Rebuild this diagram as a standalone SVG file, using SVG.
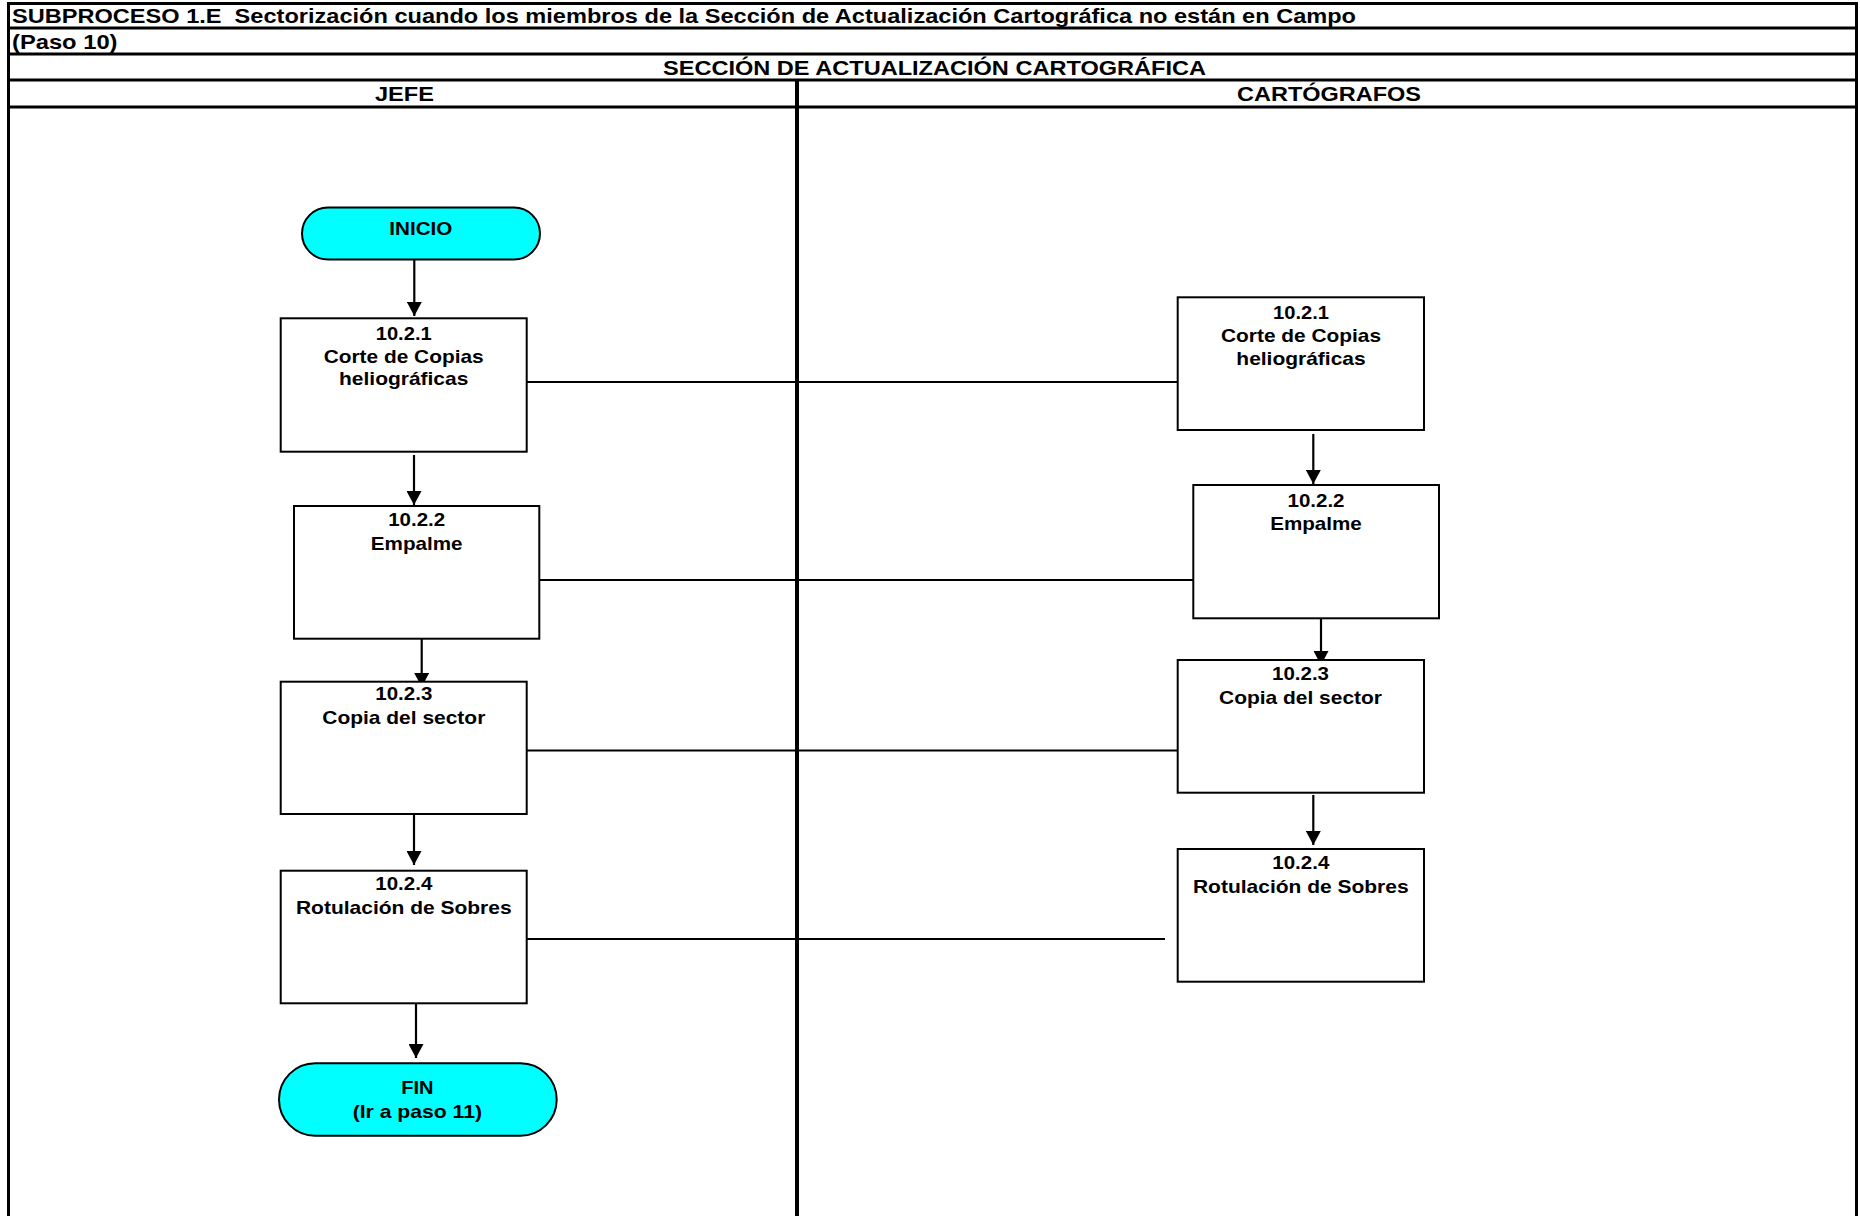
<svg xmlns="http://www.w3.org/2000/svg" width="1860" height="1216" viewBox="0 0 1860 1216">
  <style>
    .frame { stroke: #000; stroke-width: 3; fill: none; }
    .divider { stroke: #000; stroke-width: 4; fill: none; }
    .hdr { font-family: "Liberation Sans", Arial, sans-serif; font-weight: bold; font-size: 21px; fill: #000; }
    .lbl { font-family: "Liberation Sans", Arial, sans-serif; font-weight: bold; font-size: 19px; fill: #000; text-anchor: middle; }
    .box { fill: #fff; stroke: #000; stroke-width: 2; }
    .term { fill: #00ffff; stroke: #000; stroke-width: 2; }
    .link { stroke: #000; stroke-width: 2; fill: none; }
    .flow { stroke: #000; stroke-width: 2.2; fill: none; marker-end: url(#arrow); }
  </style>
  <defs>
    <marker id="arrow" markerUnits="userSpaceOnUse" markerWidth="15" markerHeight="15" refX="14" refY="7.5" orient="auto">
      <path d="M0,0 L14,7.5 L0,15 z" fill="#000"/>
    </marker>
  </defs>

  <rect width="1860" height="1216" fill="#fff"/>

  <!-- Swimlane table frame -->
  <g id="frame">
    <line class="frame" x1="8" y1="3.5" x2="1857" y2="3.5"/>
    <line class="frame" x1="8" y1="28" x2="1857" y2="28"/>
    <line class="frame" x1="8" y1="54" x2="1857" y2="54"/>
    <line class="frame" x1="8" y1="80" x2="1857" y2="80"/>
    <line class="frame" x1="8" y1="107" x2="1857" y2="107"/>
    <line class="frame" x1="8.5" y1="2" x2="8.5" y2="1216"/>
    <line class="frame" x1="1856.5" y1="2" x2="1856.5" y2="1216"/>
    <line class="divider" x1="797" y1="80" x2="797" y2="1216"/>
    <text class="hdr" x="12" y="23" textLength="1344" lengthAdjust="spacingAndGlyphs">SUBPROCESO 1.E &#160;Sectorización cuando los miembros de la Sección de Actualización Cartográfica no están en Campo</text>
    <text class="hdr" x="12" y="48.5" textLength="105.5" lengthAdjust="spacingAndGlyphs">(Paso 10)</text>
    <text class="hdr" x="934.5" y="74.5" text-anchor="middle" textLength="543" lengthAdjust="spacingAndGlyphs">SECCIÓN DE ACTUALIZACIÓN CARTOGRÁFICA</text>
    <text class="hdr" x="404.5" y="101" text-anchor="middle" textLength="59" lengthAdjust="spacingAndGlyphs">JEFE</text>
    <text class="hdr" x="1329" y="101" text-anchor="middle" textLength="184" lengthAdjust="spacingAndGlyphs">CARTÓGRAFOS</text>
  </g>

  <!-- Connectors -->
  <g id="connectors">
    <line class="link" x1="526.7" y1="382" x2="1177.7" y2="382"/>
    <line class="link" x1="537" y1="580" x2="1201" y2="580"/>
    <line class="link" x1="526.7" y1="750.5" x2="1177.7" y2="750.5"/>
    <line class="link" x1="522" y1="939" x2="1165" y2="939"/>

    <line class="flow" x1="414.3" y1="251" x2="414.3" y2="316"/>
    <line class="flow" x1="414" y1="455" x2="414" y2="505"/>
    <line class="flow" x1="421.7" y1="637" x2="421.7" y2="687"/>
    <line class="flow" x1="414" y1="814" x2="414" y2="865"/>
    <line class="flow" x1="416" y1="1003" x2="416" y2="1058"/>

    <line class="flow" x1="1313.3" y1="434" x2="1313.3" y2="484"/>
    <line class="flow" x1="1321" y1="615" x2="1321" y2="665"/>
    <line class="flow" x1="1313.3" y1="795" x2="1313.3" y2="845"/>
  </g>

  <!-- JEFE lane -->
  <g id="inicio">
    <rect class="term" x="302" y="207.5" width="238" height="52" rx="26" ry="26"/>
    <text class="lbl" x="420.8" y="234.5" textLength="63" lengthAdjust="spacingAndGlyphs">INICIO</text>
  </g>
  <g id="jefe-10-2-1">
    <rect class="box" x="280.7" y="318.3" width="246" height="133.4"/>
    <text class="lbl" x="403.7" y="340" textLength="56" lengthAdjust="spacingAndGlyphs">10.2.1</text>
    <text class="lbl" x="403.7" y="362.5" textLength="160" lengthAdjust="spacingAndGlyphs">Corte de Copias</text>
    <text class="lbl" x="403.7" y="385" textLength="129.3" lengthAdjust="spacingAndGlyphs">heliográficas</text>
  </g>
  <g id="jefe-10-2-2">
    <rect class="box" x="294" y="506" width="245.3" height="132.7"/>
    <text class="lbl" x="416.7" y="526" textLength="57" lengthAdjust="spacingAndGlyphs">10.2.2</text>
    <text class="lbl" x="416.7" y="549.5" textLength="91.7" lengthAdjust="spacingAndGlyphs">Empalme</text>
  </g>
  <g id="jefe-10-2-3">
    <rect class="box" x="280.7" y="681.7" width="246" height="132.3"/>
    <text class="lbl" x="403.8" y="700" textLength="57" lengthAdjust="spacingAndGlyphs">10.2.3</text>
    <text class="lbl" x="403.8" y="724" textLength="163" lengthAdjust="spacingAndGlyphs">Copia del sector</text>
  </g>
  <g id="jefe-10-2-4">
    <rect class="box" x="280.7" y="870.7" width="246" height="132.6"/>
    <text class="lbl" x="403.8" y="890" textLength="57" lengthAdjust="spacingAndGlyphs">10.2.4</text>
    <text class="lbl" x="403.8" y="913.5" textLength="215.7" lengthAdjust="spacingAndGlyphs">Rotulación de Sobres</text>
  </g>
  <g id="fin">
    <rect class="term" x="279" y="1063.3" width="277.7" height="72.4" rx="36.2" ry="36.2"/>
    <text class="lbl" x="417.3" y="1094" textLength="32.3" lengthAdjust="spacingAndGlyphs">FIN</text>
    <text class="lbl" x="417.3" y="1117.5" textLength="129.3" lengthAdjust="spacingAndGlyphs">(Ir a paso 11)</text>
  </g>

  <!-- CARTÓGRAFOS lane -->
  <g id="cart-10-2-1">
    <rect class="box" x="1177.7" y="297.3" width="246.3" height="132.7"/>
    <text class="lbl" x="1301" y="318.5" textLength="56" lengthAdjust="spacingAndGlyphs">10.2.1</text>
    <text class="lbl" x="1301" y="341.5" textLength="160" lengthAdjust="spacingAndGlyphs">Corte de Copias</text>
    <text class="lbl" x="1301" y="365" textLength="129.3" lengthAdjust="spacingAndGlyphs">heliográficas</text>
  </g>
  <g id="cart-10-2-2">
    <rect class="box" x="1193.3" y="485" width="245.7" height="133.3"/>
    <text class="lbl" x="1316" y="507" textLength="57" lengthAdjust="spacingAndGlyphs">10.2.2</text>
    <text class="lbl" x="1316" y="530" textLength="91.7" lengthAdjust="spacingAndGlyphs">Empalme</text>
  </g>
  <g id="cart-10-2-3">
    <rect class="box" x="1177.7" y="660" width="246.3" height="132.7"/>
    <text class="lbl" x="1300.5" y="680" textLength="57" lengthAdjust="spacingAndGlyphs">10.2.3</text>
    <text class="lbl" x="1300.5" y="704" textLength="163" lengthAdjust="spacingAndGlyphs">Copia del sector</text>
  </g>
  <g id="cart-10-2-4">
    <rect class="box" x="1177.7" y="849" width="246.3" height="132.7"/>
    <text class="lbl" x="1300.8" y="869" textLength="57" lengthAdjust="spacingAndGlyphs">10.2.4</text>
    <text class="lbl" x="1300.8" y="892.5" textLength="215.7" lengthAdjust="spacingAndGlyphs">Rotulación de Sobres</text>
  </g>
</svg>
